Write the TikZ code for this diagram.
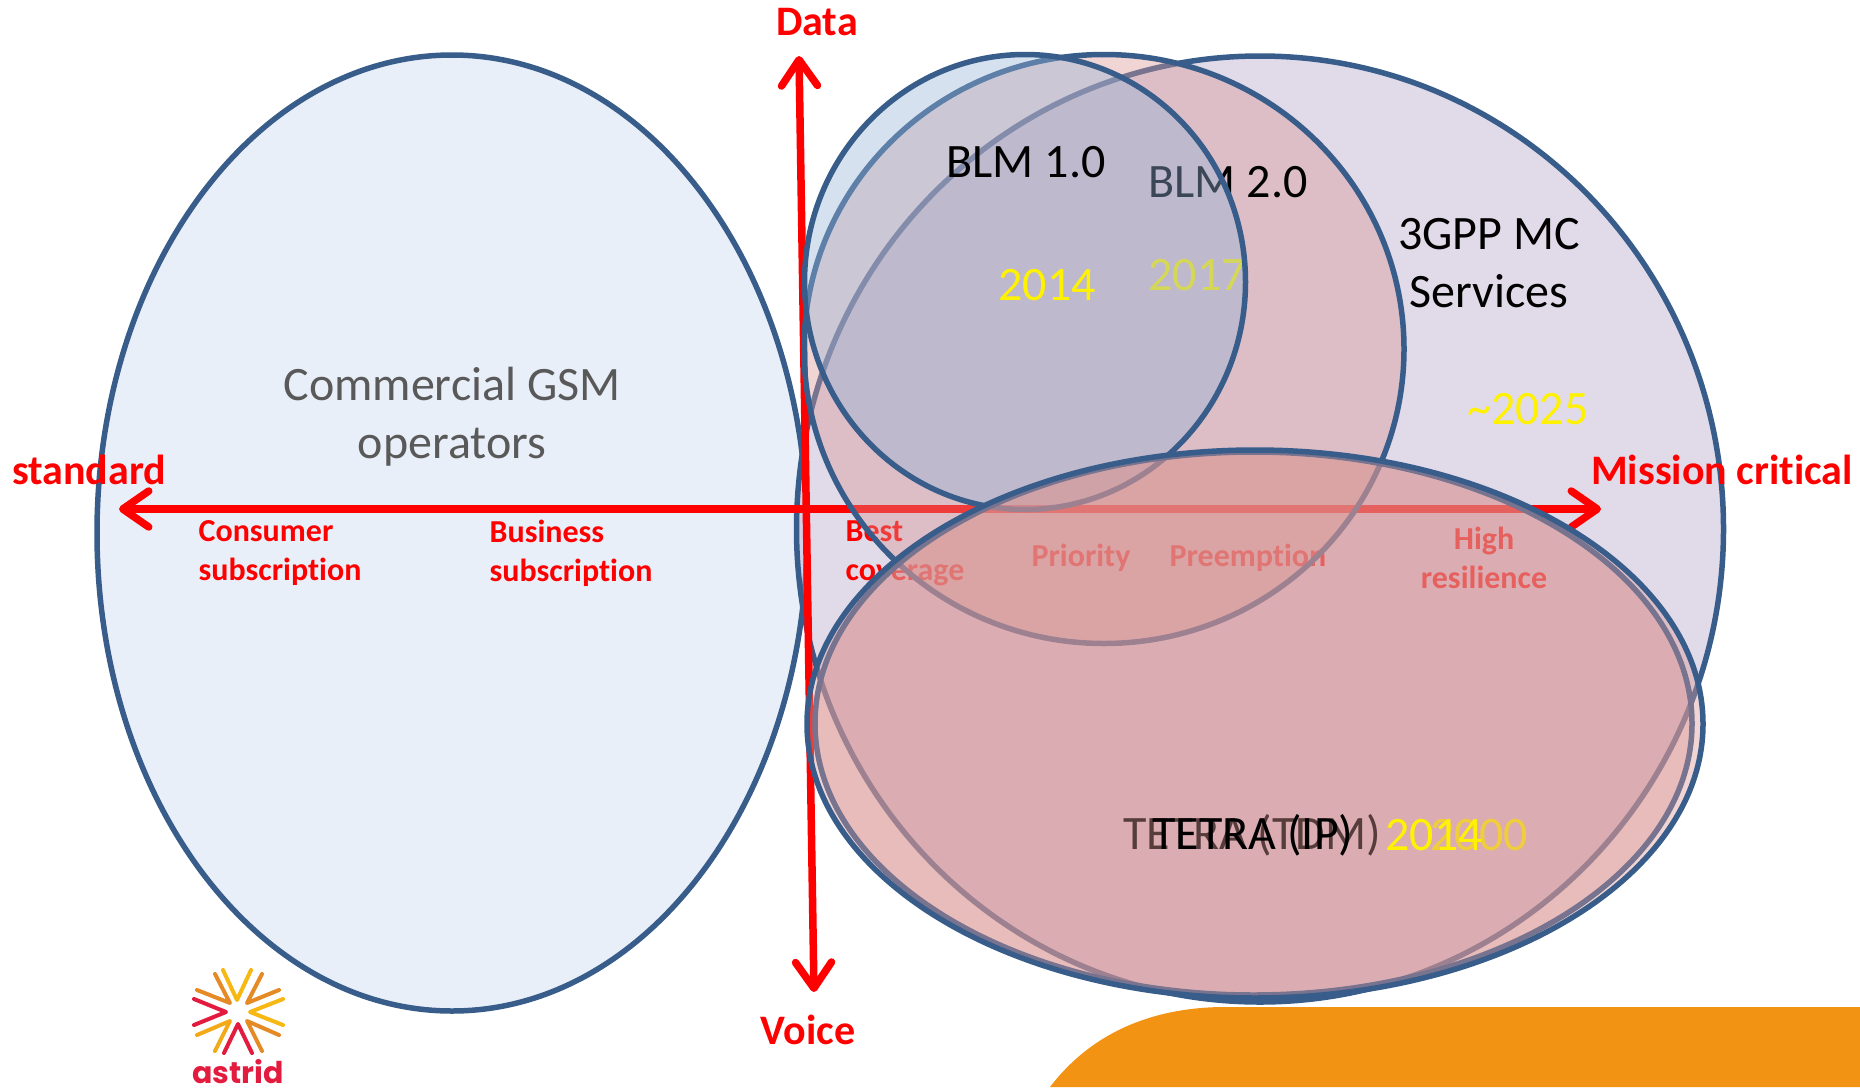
\documentclass[tikz,border=0pt]{standalone}
\usepackage{fontspec}
\setmainfont{Carlito}[Ligatures=NoCommon]
\newfontfamily\logofont{Poppins}
\usetikzlibrary{shapes.geometric,arrows.meta}
\definecolor{edgeblue}{HTML}{385D8A}
\definecolor{gsmfill}{HTML}{E9EFF9}
\definecolor{purplefill}{HTML}{B3A2C7}
\definecolor{bluefill}{HTML}{95B3D7}
\definecolor{redfill}{HTML}{D99694}
\definecolor{gsmtext}{HTML}{595959}
\definecolor{orangeband}{HTML}{F39314}
\definecolor{logored}{HTML}{E31B3F}
\definecolor{logoyellow}{HTML}{F8B814}
\definecolor{logoorange}{HTML}{E58A25}
\tikzset{
  venn/.style={ellipse,draw=edgeblue,line width=5.5pt,inner sep=0pt,outer sep=0pt},
  glass/.style={venn,fill opacity=.4},
  axis/.style={draw=red,line width=7.5pt,{Straight Barb[length=26pt,width=36pt,round]}-{Straight Barb[length=26pt,width=36pt,round]}},
  axislabel/.style={text=red,font=\bfseries\fontsize{42}{46}\selectfont,inner sep=0pt},
  featurelabel/.style={text=red,font=\bfseries\fontsize{32}{39}\selectfont,inner sep=0pt},
  biglabel/.style={text=black,font=\fontsize{48}{58}\selectfont,inner sep=0pt,align=center},
  yearlabel/.style={text=yellow,font=\fontsize{48}{50}\selectfont,inner sep=0pt},
  logov/.style={line width=4pt,line cap=round,line join=round}
}
\begin{document}
\begin{tikzpicture}[x=1pt,y=-1pt]
\useasboundingbox (0,0) rectangle (1860,1087);
% orange band
\fill[orangeband] (1050,1087) .. controls (1095,1028) and (1160,1007) .. (1225,1007) -- (1860,1007) -- (1860,1087) -- cycle;
% logo
\draw[logov,logoyellow] (223,970) -- (237,1000) -- (251,970);
\draw[logov,logoorange] (215,974) -- (230,1003) -- (197,990);
\draw[logov,logoorange] (262,974) -- (247,1003) -- (279,990);
\draw[logov,logored] (194,999) -- (226,1012) -- (194,1025);
\draw[logov,logoyellow] (283,999) -- (250,1012) -- (283,1025);
\draw[logov,logoyellow!70!logoorange] (197,1035) -- (230,1021) -- (215,1051);
\draw[logov,logoorange] (279,1035) -- (247,1021) -- (262,1051);
\draw[logov,logored] (224,1053) -- (238,1024) -- (252,1053);
\node[text=logored,inner sep=0pt,anchor=base,font=\logofont\bfseries\fontsize{30}{30}\selectfont] (astrid) at (238,1083) {astrid};
% ellipses and content
\node[venn,fill=gsmfill,minimum width=710pt,minimum height=956pt] (gsm) at (452,533) {};
\node[biglabel] (gsmtext) at (452,417) {\textcolor{gsmtext}{Commercial GSM}\\\textcolor{gsmtext}{operators}};
\node[glass,fill=purplefill,minimum width=927pt,minimum height=946pt] (mc) at (1260,529) {};
\node[biglabel] (mctext) at (1489,263) {3GPP MC\\Services};
\node[yearlabel] (y2025) at (1528,409) {\textasciitilde 2025};
% axes
\coordinate (west) at (119,509);
\coordinate (east) at (1601,509);
\coordinate (north) at (799,56);
\coordinate (south) at (814,992);
\draw[axis] (west) -- (east);
\draw[axis] (north) -- (south);
\node[axislabel] (data) at (817,22) {Data};
\node[axislabel] (voice) at (808,1030) {Voice};
\node[axislabel] (standard) at (89,470) {standard};
\node[axislabel] (critical) at (1722,470) {Mission critical};
\node[featurelabel,align=left] (consumer) at (280,553) {Consumer\\subscription};
\node[featurelabel,align=left] (business) at (571,553) {Business\\subscription};
\node[featurelabel,align=left] (coverage) at (905,553) {Best\\coverage};
\node[featurelabel] (priority) at (1081,558) {Priority};
\node[featurelabel] (preemption) at (1248,558) {Preemption};
\node[featurelabel,align=center] (resilience) at (1484,558) {High\\resilience};
% BLM 2.0
\node[glass,fill=redfill,minimum width=600pt,minimum height=589pt] (blm2) at (1104,349) {};
\node[biglabel] (blm2text) at (1228,182) {BLM 2.0};
\node[yearlabel] (y2017) at (1197,275) {2017};
% BLM 1.0
\node[glass,fill=bluefill,minimum width=441pt,minimum height=455pt] (blm1) at (1025,282) {};
\node[biglabel] (blm1text) at (1026,162) {BLM 1.0};
\node[yearlabel] (y2014a) at (1047,285) {2014};
% TETRA TDM
\node[glass,fill=redfill,minimum width=877pt,minimum height=543pt] (tdm) at (1253.5,723.5) {};
\node[biglabel] (tdmtext) at (1252,835) {TETRA (TDM)};
\node[yearlabel] (y2000) at (1479,835) {2000};
% TETRA IP
\node[glass,fill=redfill,minimum width=896pt,minimum height=548pt] (ip) at (1255,724) {};
\node[biglabel] (iptext) at (1253,835) {TETRA (IP)};
\node[yearlabel] (y2014b) at (1434,835) {2014};
\end{tikzpicture}
\end{document}
